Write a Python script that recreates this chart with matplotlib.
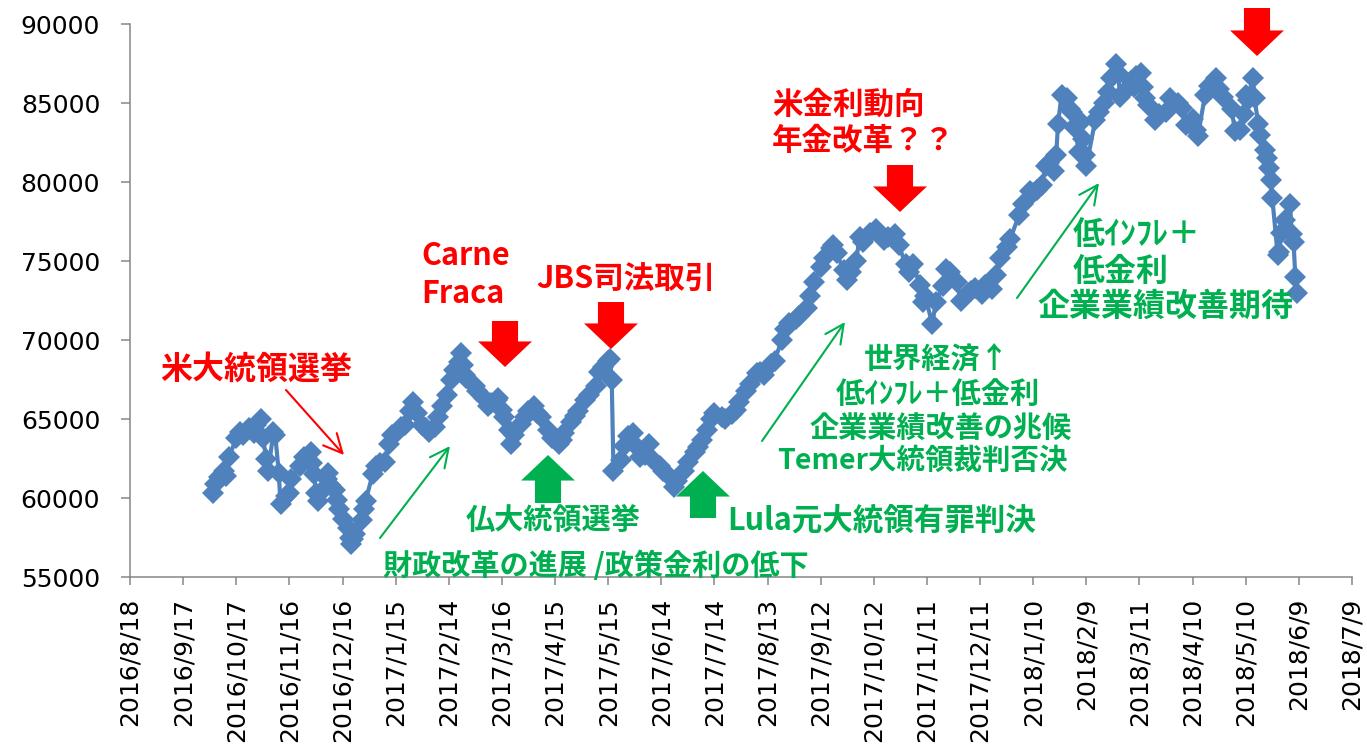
import matplotlib
matplotlib.use("Agg")
import matplotlib.pyplot as plt
import pandas as pd

# Ibovespa daily close
dates = [
    "2016-10-04", "2016-10-05", "2016-10-07", "2016-10-10", "2016-10-11", "2016-10-13",
    "2016-10-17", "2016-10-19", "2016-10-21", "2016-10-24", "2016-10-26", "2016-10-27",
    "2016-10-28", "2016-10-31", "2016-11-01", "2016-11-03", "2016-11-04", "2016-11-07",
    "2016-11-08", "2016-11-10", "2016-11-11", "2016-11-14", "2016-11-16", "2016-11-17",
    "2016-11-22", "2016-11-24", "2016-11-28", "2016-11-29", "2016-11-30", "2016-12-01",
    "2016-12-02", "2016-12-05", "2016-12-07", "2016-12-08", "2016-12-09", "2016-12-12",
    "2016-12-13", "2016-12-14", "2016-12-16", "2016-12-19", "2016-12-20", "2016-12-21",
    "2016-12-22", "2016-12-23", "2016-12-27", "2016-12-28", "2016-12-29",
    "2017-01-02", "2017-01-04", "2017-01-06", "2017-01-09", "2017-01-11", "2017-01-13",
    "2017-01-16", "2017-01-18", "2017-01-20", "2017-01-23", "2017-01-25", "2017-01-27",
    "2017-01-30", "2017-02-01", "2017-02-03", "2017-02-06", "2017-02-08", "2017-02-10",
    "2017-02-13", "2017-02-15", "2017-02-17", "2017-02-20", "2017-02-21", "2017-02-22",
    "2017-02-23", "2017-02-24", "2017-03-01", "2017-03-02", "2017-03-06", "2017-03-08",
    "2017-03-10", "2017-03-13", "2017-03-14", "2017-03-16", "2017-03-17", "2017-03-20",
    "2017-03-21", "2017-03-23", "2017-03-27", "2017-03-29", "2017-03-31", "2017-04-03",
    "2017-04-05", "2017-04-07", "2017-04-11", "2017-04-13", "2017-04-17", "2017-04-19",
    "2017-04-20", "2017-04-24", "2017-04-26", "2017-04-28", "2017-05-02", "2017-05-04",
    "2017-05-08", "2017-05-10", "2017-05-12", "2017-05-15", "2017-05-16", "2017-05-17",
    "2017-05-18", "2017-05-22", "2017-05-24", "2017-05-26", "2017-05-29", "2017-05-31",
    "2017-06-02", "2017-06-05", "2017-06-07", "2017-06-09", "2017-06-13", "2017-06-15",
    "2017-06-19", "2017-06-21", "2017-06-23", "2017-06-27", "2017-06-29", "2017-07-03",
    "2017-07-05", "2017-07-07", "2017-07-10", "2017-07-12", "2017-07-14", "2017-07-18",
    "2017-07-20", "2017-07-24", "2017-07-26", "2017-07-28", "2017-08-01", "2017-08-03",
    "2017-08-07", "2017-08-09", "2017-08-11", "2017-08-15", "2017-08-17", "2017-08-21",
    "2017-08-23", "2017-08-25", "2017-08-29", "2017-08-31", "2017-09-04", "2017-09-06",
    "2017-09-08", "2017-09-12", "2017-09-14", "2017-09-18", "2017-09-19", "2017-09-21",
    "2017-09-25", "2017-09-27", "2017-09-29", "2017-10-02", "2017-10-04", "2017-10-06",
    "2017-10-10", "2017-10-13", "2017-10-16", "2017-10-18", "2017-10-20", "2017-10-24",
    "2017-10-26", "2017-10-30", "2017-11-01", "2017-11-03", "2017-11-07", "2017-11-09",
    "2017-11-10", "2017-11-14", "2017-11-16", "2017-11-20", "2017-11-22", "2017-11-24",
    "2017-11-28", "2017-11-30", "2017-12-04", "2017-12-06", "2017-12-08", "2017-12-12",
    "2017-12-14", "2017-12-18", "2017-12-20", "2017-12-22", "2017-12-26", "2017-12-28",
    "2018-01-02", "2018-01-04", "2018-01-08", "2018-01-10", "2018-01-12", "2018-01-15",
    "2018-01-17", "2018-01-19", "2018-01-22", "2018-01-23", "2018-01-24", "2018-01-26",
    "2018-01-29", "2018-01-31", "2018-02-01", "2018-02-02", "2018-02-05", "2018-02-06",
    "2018-02-07", "2018-02-08", "2018-02-09", "2018-02-14", "2018-02-16", "2018-02-19",
    "2018-02-21", "2018-02-23", "2018-02-26", "2018-02-27", "2018-02-28", "2018-03-02",
    "2018-03-06", "2018-03-08", "2018-03-09", "2018-03-12", "2018-03-13", "2018-03-14",
    "2018-03-16", "2018-03-20", "2018-03-22", "2018-03-26", "2018-03-28", "2018-04-02",
    "2018-04-04", "2018-04-06", "2018-04-10", "2018-04-12", "2018-04-13", "2018-04-17",
    "2018-04-19", "2018-04-23", "2018-04-25", "2018-04-27", "2018-05-02", "2018-05-04",
    "2018-05-07", "2018-05-09", "2018-05-10", "2018-05-11", "2018-05-14", "2018-05-15",
    "2018-05-17", "2018-05-18", "2018-05-21", "2018-05-22", "2018-05-23", "2018-05-24",
    "2018-05-25", "2018-05-28", "2018-05-29", "2018-05-30", "2018-06-01", "2018-06-04",
    "2018-06-05", "2018-06-06", "2018-06-07", "2018-06-08",
]
values = [
    60300, 60900, 61300, 61700, 61400, 62600,
    63800, 64200, 64000, 64400, 64300, 64100,
    64600, 65000, 63800, 62500, 61700, 64150,
    64000, 61600, 59600, 60100, 60300, 61200,
    62000, 62600, 62900, 62200, 61500, 60300,
    59800, 60500, 61200, 61600, 60800, 60500,
    59900, 59300, 58700, 58100, 57500, 57100,
    57400, 57700, 58600, 59300, 59800,
    61500, 62000, 62200, 62300, 63400, 64000,
    64200, 64500, 64600, 65500, 66100, 65400,
    64600, 64400, 64200, 64500, 65100, 65800,
    66500, 67500, 68100, 68600, 69200, 68400,
    67800, 67600, 67100, 66800, 66300, 65800,
    66000, 66200, 66300, 65600, 65100, 64300,
    63400, 64000, 64700, 65100, 65500, 65800,
    65400, 65100, 64300, 63800, 63400, 63700,
    64100, 64800, 65200, 65500, 66200, 66500,
    67100, 68000, 68300, 68700, 68800, 67500,
    61700, 62400, 63300, 63900, 64100, 63200,
    62600, 62700, 63400, 62500, 62000, 61700,
    61300, 60700, 61100, 61700, 62300, 62900,
    63200, 63700, 64300, 65000, 65400, 65100,
    65000, 65300, 65600, 66100, 66800, 67200,
    67900, 68000, 67800, 68500, 68700, 70000,
    70700, 71100, 71300, 71500, 72000, 72800,
    73700, 74600, 75200, 75800, 76000, 75500,
    74400, 73800, 74300, 75000, 76500, 76200,
    76800, 77000, 76600, 76300, 76500, 76700,
    76000, 74800, 74300, 74800, 73500, 72400,
    72800, 71000, 72400, 73400, 74500, 74300,
    73700, 72500, 73000, 73100, 73300, 72900,
    73500, 73200, 74100, 75200, 75900, 76400,
    77900, 78600, 79400, 79300, 79500, 79800,
    81000, 81200, 80700, 81700, 83700, 85500,
    85300, 84600, 84400, 83500, 81900, 83800,
    82700, 81700, 81000, 83900, 84400, 85000,
    85700, 86600, 87500, 86900, 85400, 85700,
    86400, 86000, 86700, 86900, 86000, 85300,
    84900, 83900, 84300, 84400, 85300, 85000,
    84700, 83600, 84000, 83300, 82900, 85500,
    86100, 86600, 85900, 85400, 84600, 83200,
    83300, 84300, 85500, 85200, 86600, 85300,
    83700, 83000, 82000, 81500, 80900, 80100,
    79000, 75400, 75600, 76800, 77600, 78600,
    76700, 76200, 74000, 73000,
]

xtick_labels = [
    "2016/8/18", "2016/9/17", "2016/10/17", "2016/11/16", "2016/12/16",
    "2017/1/15", "2017/2/14", "2017/3/16", "2017/4/15", "2017/5/15",
    "2017/6/14", "2017/7/14", "2017/8/13", "2017/9/12", "2017/10/12",
    "2017/11/11", "2017/12/11", "2018/1/10", "2018/2/9", "2018/3/11",
    "2018/4/10", "2018/5/10", "2018/6/9", "2018/7/9",
]
yticks = [55000, 60000, 65000, 70000, 75000, 80000, 85000, 90000]

W, H = 1367, 750
BLUE = "#4F81BD"
RED = "#FF0000"
GREEN = "#00B050"
GREY = "#868686"
JP = ["Noto Sans CJK JP", "DejaVu Sans"]

plt.rcParams["font.family"] = ["DejaVu Sans"]

fig = plt.figure(figsize=(W / 100, H / 100), dpi=100)
ax = fig.add_axes([130 / W, 1 - 577 / H, 1222 / W, 553 / H])

x = pd.to_datetime(dates)
ax.plot(x, values, color=BLUE, lw=3, marker="D", ms=11,
        markerfacecolor=BLUE, markeredgewidth=0, zorder=3)

tick_dates = pd.to_datetime(xtick_labels, format="%Y/%m/%d")
ax.set_xlim(tick_dates[0], tick_dates[-1])
ax.set_xticks(tick_dates)
ax.set_xticklabels(xtick_labels, rotation=90, va="top", ha="center")
ax.set_ylim(yticks[0], yticks[-1])
ax.set_yticks(yticks)
ax.set_yticklabels([str(v) for v in yticks])

for s in ["top", "right"]:
    ax.spines[s].set_visible(False)
for s in ["left", "bottom"]:
    ax.spines[s].set_color(GREY)
    ax.spines[s].set_linewidth(1.1)
ax.tick_params(axis="both", colors=GREY, labelcolor="black", labelsize=18,
               width=1.1, direction="out")
ax.tick_params(axis="x", length=6, pad=9)
ax.tick_params(axis="y", length=6.5, pad=15)


def px(xp, yp):
    # pixel position (from top-left) -> figure pixels
    return xp, H - yp


def label(txt, xp, yp, color, size=22, ha="left"):
    fig.text(xp / W, 1 - yp / H, txt, color=color, fontsize=size,
             fontweight="bold", family=JP, ha=ha, va="center", zorder=5)


def block_arrow(xp, y_tail, y_tip, color):
    ax.annotate("", xy=px(xp, y_tip), xycoords="figure pixels",
                xytext=px(xp, y_tail), textcoords="figure pixels",
                arrowprops=dict(arrowstyle="simple,head_length=0.46,head_width=0.97,tail_width=0.47",
                                mutation_scale=40, color=color, lw=0,
                                shrinkA=0, shrinkB=0),
                annotation_clip=False, zorder=5)


def thin_arrow(x0, y0, x1, y1, color):
    ax.annotate("", xy=px(x1, y1), xycoords="figure pixels",
                xytext=px(x0, y0), textcoords="figure pixels",
                arrowprops=dict(arrowstyle="->,head_length=0.45,head_width=0.22",
                                mutation_scale=30, color=color, lw=1.5,
                                shrinkA=0, shrinkB=0),
                annotation_clip=False, zorder=5)


# red events
label("米大統領選挙", 160, 370, RED, size=23)
thin_arrow(286, 390, 344, 455, RED)
label("Carne", 421, 256, RED)
label("Fraca", 421, 294, RED)
block_arrow(505, 321, 367, RED)
label("JBS司法取引", 536, 279, RED)
block_arrow(611, 302, 349, RED)
label("米金利動向", 772, 105, RED)
label("年金改革？？", 772, 141, RED)
block_arrow(900, 165, 212, RED)
block_arrow(1257, 8, 56, RED)

# green events
block_arrow(548, 503, 455, GREEN)
label("仏大統領選挙", 553, 520, GREEN, size=21, ha="center")
block_arrow(703, 518, 471, GREEN)
label("Lula元大統領有罪判決", 727, 521, GREEN, size=22)
thin_arrow(380, 538, 450, 446, GREEN)
label("財政改革の進展 /政策金利の低下", 383, 566, GREEN, size=21)
thin_arrow(762, 441, 845, 322, GREEN)
label("世界経済↑", 937, 360, GREEN, size=21, ha="center")
label("低ｲﾝﾌﾚ＋低金利", 938, 394, GREEN, size=21, ha="center")
label("企業業績改善の兆候", 941, 428, GREEN, size=21, ha="center")
label("Temer大統領裁判否決", 777, 461, GREEN, size=20.5)
thin_arrow(1017, 298, 1099, 183, GREEN)
label("低ｲﾝﾌﾚ＋", 1073, 235, GREEN, size=23)
label("低金利", 1073, 272, GREEN, size=23)
label("企業業績改善期待", 1037, 307, GREEN, size=23)

fig.savefig("out.png", dpi=100)
